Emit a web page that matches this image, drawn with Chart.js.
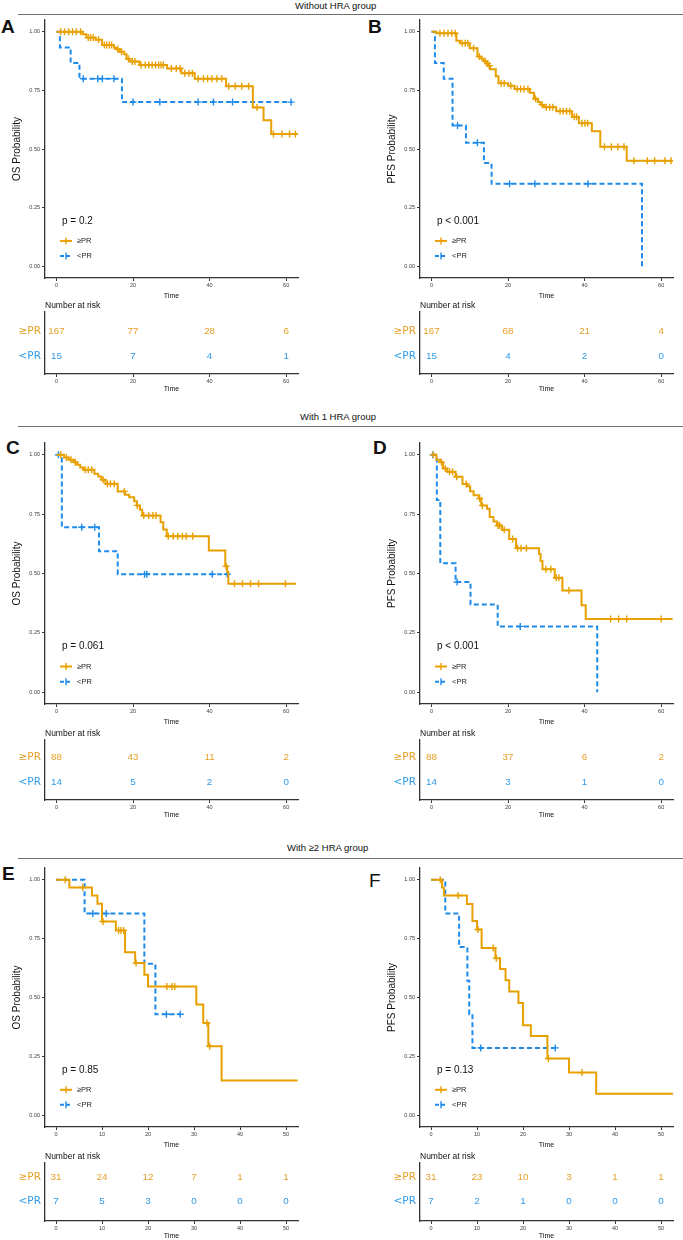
<!DOCTYPE html>
<html><head><meta charset="utf-8">
<script src="https://cdn.jsdelivr.net/npm/chart.js@4.4.1/dist/chart.umd.min.js"></script>
<style>
html,body{margin:0;padding:0;background:#fff;}
#wrap{position:relative;width:683px;height:1240px;overflow:hidden;font-family:"Liberation Sans",Arial,Helvetica,sans-serif;}
canvas{position:absolute;}
.sec{position:absolute;font-size:9.5px;line-height:12px;color:#111;white-space:nowrap;}
.rule{position:absolute;left:18px;width:665px;height:1.5px;background:#6f6f6f;}
.lab{position:absolute;font-weight:bold;font-size:19px;line-height:19px;color:#111;}
</style></head><body><div id="wrap">
<div class="sec" style="left:295px;top:0px">Without HRA group</div><div class="rule" style="top:13.5px"></div>
<div class="sec" style="left:300px;top:411px">With 1 HRA group</div><div class="rule" style="top:425.5px"></div>
<div class="sec" style="left:287px;top:842px">With ≥2 HRA group</div><div class="rule" style="top:857.5px"></div>
<div class="lab" style="left:1px;top:16.5px">A</div>
<div class="lab" style="left:368px;top:16.5px">B</div>
<div class="lab" style="left:6px;top:437.5px">C</div>
<div class="lab" style="left:373px;top:437.5px">D</div>
<div class="lab" style="left:2px;top:863.5px">E</div>
<div class="lab" style="left:369px;top:870.5px;font-weight:normal">F</div>
</div>
<script>
// ---------- DATA ----------
const groupLabels = ['≥PR', '<PR'];
const riskRows = ['≥PR', '<PR'];
const xTicks60 = [0, 20, 40, 60];
const xTicks50 = [0, 10, 20, 30, 40, 50];
const yTicks = [0, 0.25, 0.5, 0.75, 1];

// Panel A – OS, without HRA
const aHiTime = [0, 6.8, 7.8, 10.2, 11.9, 15.0, 15.8, 16.5, 17.7, 18.3, 19.1, 21.7, 28.9, 32.6, 36.1, 44.3, 51.3, 54.1, 56.1, 63.0];
const aHiSurv = [1, 0.989, 0.975, 0.966, 0.943, 0.932, 0.925, 0.915, 0.904, 0.885, 0.873, 0.858, 0.843, 0.823, 0.800, 0.768, 0.677, 0.623, 0.564, 0.564];
const aHiCens = [1.1, 2.1, 3.2, 4.2, 5.2, 6.3, 8.3, 8.9, 9.6, 11.0, 12.5, 13.1, 13.8, 14.4, 16.0, 17.0, 18.8, 19.8, 20.5, 22.1, 23.2, 24.1, 25.0, 25.9, 26.7, 27.3, 27.9, 30.0, 31.3, 32.3, 33.5, 34.6, 35.5, 37.0, 38.4, 39.5, 40.6, 41.9, 43.2, 45.0, 46.7, 48.4, 50.2, 52.4, 56.7, 58.9, 60.9, 62.4];
const aLoTime = [0, 0.9, 3.7, 6.0, 17.1, 61.3];
const aLoSurv = [1, 0.933, 0.867, 0.800, 0.700, 0.700];
const aLoCens = [7.0, 10.8, 12.0, 15.0, 20.0, 27.0, 37.0, 41.0, 46.0, 61.3];
const aRiskHi = [167, 77, 28, 6];
const aRiskLo = [15, 7, 4, 1];
const pA = 'p = 0.2';

// Panel B – PFS, without HRA
const bHiTime = [0, 1.3, 6.5, 7.5, 10.0, 12.0, 13.0, 13.6, 14.2, 14.8, 15.3, 16.8, 17.5, 20.0, 21.7, 25.7, 26.8, 27.8, 28.5, 29.4, 32.6, 36.7, 38.5, 41.9, 44.1, 51.0, 63.0];
const bHiSurv = [1, 0.993, 0.962, 0.951, 0.930, 0.894, 0.885, 0.875, 0.865, 0.855, 0.840, 0.810, 0.780, 0.770, 0.756, 0.740, 0.714, 0.700, 0.689, 0.678, 0.661, 0.637, 0.610, 0.576, 0.510, 0.450, 0.450];
const bHiCens = [2.2, 3.3, 4.3, 5.3, 6.2, 8.0, 8.8, 9.5, 11.0, 12.5, 14.0, 14.6, 15.1, 18.2, 19.0, 20.7, 22.4, 23.3, 24.2, 25.2, 27.2, 28.9, 30.0, 30.9, 31.7, 33.6, 34.4, 35.3, 36.1, 37.3, 37.9, 39.3, 40.1, 40.8, 45.2, 47.0, 48.7, 50.3, 52.9, 56.4, 58.3, 61.0, 62.6];
const bLoTime = [0, 0.9, 3.2, 5.5, 9.0, 13.7, 15.7, 55.0];
const bLoSurv = [1, 0.867, 0.800, 0.600, 0.527, 0.440, 0.352, 0];
const bLoCens = [6.8, 12.0, 20.4, 27.0, 40.9];
const bRiskHi = [167, 68, 21, 4];
const bRiskLo = [15, 4, 2, 0];
const pB = 'p < 0.001';

// Panel C – OS, 1 HRA
const cHiTime = [0, 2.0, 3.2, 4.5, 5.4, 6.2, 7.1, 9.9, 10.9, 11.7, 12.8, 16.0, 17.9, 19.0, 20.3, 21.0, 21.8, 22.4, 27.2, 27.9, 28.8, 39.8, 44.1, 44.6, 44.9, 62.6];
const cHiSurv = [1, 0.989, 0.979, 0.969, 0.958, 0.947, 0.937, 0.920, 0.909, 0.895, 0.878, 0.846, 0.832, 0.821, 0.804, 0.787, 0.769, 0.744, 0.716, 0.685, 0.657, 0.597, 0.531, 0.506, 0.457, 0.457];
const cHiCens = [1.1, 2.6, 3.8, 4.9, 7.5, 8.3, 9.2, 12.2, 13.3, 14.1, 15.1, 17.7, 21.1, 22.8, 24.1, 25.2, 26.0, 29.2, 30.5, 31.7, 32.9, 33.9, 35.6, 44.3, 46.5, 48.6, 50.7, 52.8, 59.8];
const cLoTime = [0, 1.4, 11.1, 16.0, 44.9];
const cLoSurv = [1, 0.695, 0.594, 0.497, 0.497];
const cLoCens = [0.5, 6.6, 10.0, 23.0, 23.6, 40.7, 44.6];
const cRiskHi = [88, 43, 11, 2];
const cRiskLo = [14, 5, 2, 0];
const pC = 'p = 0.061';

// Panel D – PFS, 1 HRA
const dHiTime = [0, 1.3, 2.2, 3.0, 4.1, 6.3, 8.1, 9.3, 10.1, 11.0, 12.4, 13.0, 14.5, 15.2, 16.2, 17.1, 18.4, 20.3, 22.1, 28.1, 28.5, 29.0, 32.2, 34.2, 39.2, 40.3, 63.0];
const dHiSurv = [1, 0.979, 0.969, 0.943, 0.929, 0.908, 0.877, 0.868, 0.847, 0.830, 0.816, 0.787, 0.773, 0.738, 0.719, 0.702, 0.684, 0.645, 0.606, 0.582, 0.553, 0.518, 0.482, 0.428, 0.366, 0.308, 0.308];
const dHiCens = [0.5, 2.6, 3.6, 4.7, 5.5, 6.6, 9.1, 12.6, 13.3, 17.4, 17.8, 19.0, 21.2, 22.5, 23.4, 24.8, 29.9, 31.2, 32.6, 33.3, 35.9, 46.8, 48.9, 51.0, 60.0];
const dLoTime = [0, 1.4, 2.3, 6.3, 10.2, 17.3, 43.3];
const dLoSurv = [1, 0.810, 0.543, 0.464, 0.369, 0.277, 0];
const dLoCens = [0.4, 6.7, 23.2];
const dRiskHi = [88, 37, 6, 2];
const dRiskLo = [14, 3, 1, 0];
const pD = 'p < 0.001';

// Panel E – OS, >=2 HRA
const eHiTime = [0, 2.9, 7.8, 9.0, 10.0, 13.0, 15.0, 17.2, 19.2, 20.0, 30.5, 32.0, 33.1, 36.0, 52.5];
const eHiSurv = [1, 0.967, 0.933, 0.898, 0.823, 0.785, 0.692, 0.646, 0.597, 0.547, 0.470, 0.392, 0.293, 0.147, 0.147];
const eHiCens = [2.0, 5.8, 10.2, 13.6, 14.1, 14.7, 17.4, 24.1, 25.2, 25.8, 32.8, 33.4];
const eLoTime = [0, 6.2, 19.2, 21.6, 27.0];
const eLoSurv = [1, 0.857, 0.643, 0.429, 0.429];
const eLoCens = [8.0, 10.9, 24.0, 27.0];
const eRiskHi = [31, 24, 12, 7, 1, 1];
const eRiskLo = [7, 5, 3, 0, 0, 0];
const pE = 'p = 0.85';

// Panel F – PFS, >=2 HRA
const fHiTime = [0, 2.4, 2.8, 7.8, 9.0, 10.0, 11.0, 14.0, 15.0, 16.2, 17.0, 19.0, 20.0, 21.7, 25.3, 30.0, 35.9, 52.6];
const fHiSurv = [1, 0.967, 0.933, 0.897, 0.825, 0.789, 0.710, 0.667, 0.621, 0.573, 0.526, 0.477, 0.382, 0.336, 0.241, 0.181, 0.091, 0.091];
const fHiCens = [2.0, 5.9, 10.2, 13.5, 14.2, 25.5, 32.8];
const fLoTime = [0, 3.1, 6.1, 7.9, 8.3, 9.0, 27.0];
const fLoSurv = [1, 0.857, 0.714, 0.571, 0.429, 0.286, 0.286];
const fLoCens = [10.8, 27.0];
const fRiskHi = [31, 23, 10, 3, 1, 1];
const fRiskLo = [7, 2, 1, 0, 0, 0];
const pF = 'p = 0.13';

// ---------- STYLE ----------
const FONT = '"Liberation Sans", Arial, Helvetica, sans-serif';
const ORANGE = '#E8A000';
const BLUE = '#1E8BEA';
const ORANGE_TXT = '#E69F26';
const BLUE_TXT = '#2E9BEA';
const AXIS = '#333333';
Chart.defaults.font.family = FONT;
Chart.defaults.color = '#222';

function survAt(T, S, t) { let s = S[0]; for (let i = 0; i < T.length; i++) { if (T[i] <= t) s = S[i]; } return s; }
function addCanvas(left, top, w, h) {
  const c = document.createElement('canvas');
  c.width = w; c.height = h;
  c.style.left = left + 'px'; c.style.top = top + 'px';
  c.style.width = w + 'px'; c.style.height = h + 'px';
  document.getElementById('wrap').appendChild(c);
  return c;
}
function xAxis(min, max, ticks, h, titlePadBottom) {
  return {
    type: 'linear', min, max,
    afterBuildTicks: s => { s.ticks = ticks.map(v => ({ value: v })); },
    afterFit: s => { s.height = h; },
    ticks: { font: { size: 5.5 }, color: '#3a3a3a', padding: 1, maxRotation: 0, autoSkip: false, callback: v => String(v) },
    grid: { display: true, drawOnChartArea: false, drawTicks: true, tickLength: 3, tickColor: AXIS, tickWidth: 1 },
    border: { display: true, color: AXIS, width: 1.3 },
    title: { display: true, text: 'Time', font: { size: 7 }, color: '#111', padding: { top: 0, bottom: titlePadBottom } }
  };
}

const geoLeft = { canvasLeft: 0, width: 330, areaRight: 298 };
const geoRight = { canvasLeft: 375, width: 308, areaRight: 673 };

const panels = [
  { geo: geoLeft, top: 20, bottom: 278, rTop: 312, rBottom: 374, rMin: 0.32, rMax: 2.76, xMin: -3, xMax: 63.1, xTicks: xTicks60, yTitle: 'OS Probability', p: pA,
    hiT: aHiTime, hiS: aHiSurv, hiC: aHiCens, loT: aLoTime, loS: aLoSurv, loC: aLoCens, riskHi: aRiskHi, riskLo: aRiskLo },
  { geo: geoRight, top: 20, bottom: 278, rTop: 312, rBottom: 374, rMin: 0.32, rMax: 2.76, xMin: -3, xMax: 63.1, xTicks: xTicks60, yTitle: 'PFS Probability', p: pB,
    hiT: bHiTime, hiS: bHiSurv, hiC: bHiCens, loT: bLoTime, loS: bLoSurv, loC: bLoCens, riskHi: bRiskHi, riskLo: bRiskLo },
  { geo: geoLeft, top: 443, bottom: 704, rTop: 740, rBottom: 800, rMin: 0.3, rMax: 2.7, xMin: -3, xMax: 63.1, xTicks: xTicks60, yTitle: 'OS Probability', p: pC,
    hiT: cHiTime, hiS: cHiSurv, hiC: cHiCens, loT: cLoTime, loS: cLoSurv, loC: cLoCens, riskHi: cRiskHi, riskLo: cRiskLo },
  { geo: geoRight, top: 443, bottom: 704, rTop: 740, rBottom: 800, rMin: 0.3, rMax: 2.7, xMin: -3, xMax: 63.1, xTicks: xTicks60, yTitle: 'PFS Probability', p: pD,
    hiT: dHiTime, hiS: dHiSurv, hiC: dHiCens, loT: dLoTime, loS: dLoSurv, loC: dLoCens, riskHi: dRiskHi, riskLo: dRiskLo },
  { geo: geoLeft, top: 868, bottom: 1127, rTop: 1163, rBottom: 1221, rMin: 0.2, rMax: 2.6, xMin: -2.4, xMax: 52.6, xTicks: xTicks50, yTitle: 'OS Probability', p: pE,
    hiT: eHiTime, hiS: eHiSurv, hiC: eHiCens, loT: eLoTime, loS: eLoSurv, loC: eLoCens, riskHi: eRiskHi, riskLo: eRiskLo },
  { geo: geoRight, top: 868, bottom: 1127, rTop: 1163, rBottom: 1221, rMin: 0.2, rMax: 2.6, xMin: -2.4, xMax: 52.6, xTicks: xTicks50, yTitle: 'PFS Probability', p: pF,
    hiT: fHiTime, hiS: fHiSurv, hiC: fHiCens, loT: fLoTime, loS: fLoSurv, loC: fLoCens, riskHi: fRiskHi, riskLo: fRiskLo }
];

function kmDecor(P) {
  return {
    id: 'kmDecor',
    afterDraw(chart) {
      const { ctx, chartArea: a, scales: { y } } = chart;
      ctx.save();
      ctx.textBaseline = 'middle'; ctx.textAlign = 'left';
      ctx.fillStyle = '#111'; ctx.font = '10px ' + FONT;
      ctx.fillText(P.p, a.left + 17, y.getPixelForValue(0.193));
      const rows = [
        { c: ORANGE, d: [], v: 0.108, l: groupLabels[0] },
        { c: BLUE, d: [4, 2], v: 0.044, l: groupLabels[1] }
      ];
      rows.forEach(r => {
        const yy = y.getPixelForValue(r.v), x0 = a.left + 15;
        ctx.strokeStyle = r.c; ctx.lineWidth = 2; ctx.setLineDash(r.d);
        ctx.beginPath(); ctx.moveTo(x0, yy); ctx.lineTo(x0 + 12, yy); ctx.stroke();
        ctx.setLineDash([]); ctx.lineWidth = 1.4;
        ctx.beginPath(); ctx.moveTo(x0 + 6, yy - 3.5); ctx.lineTo(x0 + 6, yy + 3.5); ctx.stroke();
        ctx.fillStyle = '#222'; ctx.font = '7.5px ' + FONT;
        ctx.fillText(r.l, x0 + 17, yy);
      });
      ctx.restore();
    }
  };
}

function riskDecor(P) {
  return {
    id: 'riskDecor',
    afterDraw(chart) {
      const { ctx, chartArea: a, scales: { x, y } } = chart;
      ctx.save(); ctx.textBaseline = 'middle';
      ctx.fillStyle = '#111'; ctx.font = '8.5px ' + FONT; ctx.textAlign = 'left';
      ctx.fillText('Number at risk', a.left, a.top - 6);
      ctx.font = '9.8px ' + FONT; ctx.textAlign = 'center';
      P.xTicks.forEach((t, i) => {
        const px = x.getPixelForValue(t);
        ctx.fillStyle = ORANGE_TXT; ctx.fillText(String(P.riskHi[i]), px, y.getPixelForValue(2));
        ctx.fillStyle = BLUE_TXT; ctx.fillText(String(P.riskLo[i]), px, y.getPixelForValue(1));
      });
      ctx.restore();
    }
  };
}

panels.forEach(P => {
  const g = P.geo;
  const padR = g.width - (g.areaRight - g.canvasLeft);
  // KM plot
  const padTop = 8, axisH = 24, padBottom = 2;
  const cv = addCanvas(g.canvasLeft, P.top - padTop, g.width, padTop + (P.bottom - P.top) + axisH + padBottom);
  const pts = (T, S) => T.map((t, i) => ({ x: t, y: S[i] }));
  const cens = (T, S, C) => C.map(c => ({ x: c, y: survAt(T, S, c) }));
  new Chart(cv, {
    type: 'line',
    data: {
      datasets: [
        { data: cens(P.hiT, P.hiS, P.hiC), showLine: false, pointStyle: 'cross', pointRadius: 3.5, pointHoverRadius: 0, pointBorderWidth: 1.4, pointBorderColor: ORANGE, borderColor: ORANGE },
        { data: pts(P.hiT, P.hiS), stepped: true, borderColor: ORANGE, borderWidth: 2, pointRadius: 0, pointHoverRadius: 0, fill: false },
        { data: cens(P.loT, P.loS, P.loC), showLine: false, pointStyle: 'cross', pointRadius: 3.5, pointHoverRadius: 0, pointBorderWidth: 1.4, pointBorderColor: BLUE, borderColor: BLUE },
        { data: pts(P.loT, P.loS), stepped: true, borderColor: BLUE, borderWidth: 2, borderDash: [5, 3], pointRadius: 0, pointHoverRadius: 0, fill: false }
      ]
    },
    options: {
      responsive: false, animation: false, devicePixelRatio: 1, events: [],
      layout: { padding: { left: 7, right: padR, top: padTop, bottom: padBottom } },
      plugins: { legend: { display: false }, tooltip: { enabled: false } },
      scales: {
        x: xAxis(P.xMin, P.xMax, P.xTicks, axisH, 2),
        y: {
          type: 'linear', min: -0.05, max: 1.05,
          afterBuildTicks: s => { s.ticks = yTicks.map(v => ({ value: v })); },
          afterFit: s => { s.width = 38; },
          ticks: { font: { size: 5.5 }, color: '#3a3a3a', padding: 2, callback: v => Number(v).toFixed(2) },
          grid: { display: true, drawOnChartArea: false, drawTicks: true, tickLength: 3, tickColor: AXIS, tickWidth: 1 },
          border: { display: true, color: AXIS, width: 1.3 },
          title: { display: true, text: P.yTitle, font: { size: 10 }, color: '#111', padding: { top: 4, bottom: 0 } }
        }
      }
    },
    plugins: [kmDecor(P)]
  });

  // Risk table
  const rPadTop = 14, rAxisH = 20;
  const rc = addCanvas(g.canvasLeft, P.rTop - rPadTop, g.width, rPadTop + (P.rBottom - P.rTop) + rAxisH);
  new Chart(rc, {
    type: 'line',
    data: { datasets: [] },
    options: {
      responsive: false, animation: false, devicePixelRatio: 1, events: [],
      layout: { padding: { left: 7, right: padR, top: rPadTop, bottom: 0 } },
      plugins: { legend: { display: false }, tooltip: { enabled: false } },
      scales: {
        x: xAxis(P.xMin, P.xMax, P.xTicks, rAxisH, 1),
        y: {
          type: 'linear', min: P.rMin, max: P.rMax,
          afterBuildTicks: s => { s.ticks = [2, 1].map(v => ({ value: v })); },
          afterFit: s => { s.width = 38; },
          ticks: { font: { size: 10.5, family: '"DejaVu Sans", sans-serif' }, color: c => (c.tick && c.tick.value === 2) ? ORANGE_TXT : BLUE_TXT, padding: 4, callback: v => riskRows[2 - v] },
          grid: { display: false, drawTicks: false },
          border: { display: true, color: AXIS, width: 1.3 }
        }
      }
    },
    plugins: [riskDecor(P)]
  });
});
</script>
</body></html>
